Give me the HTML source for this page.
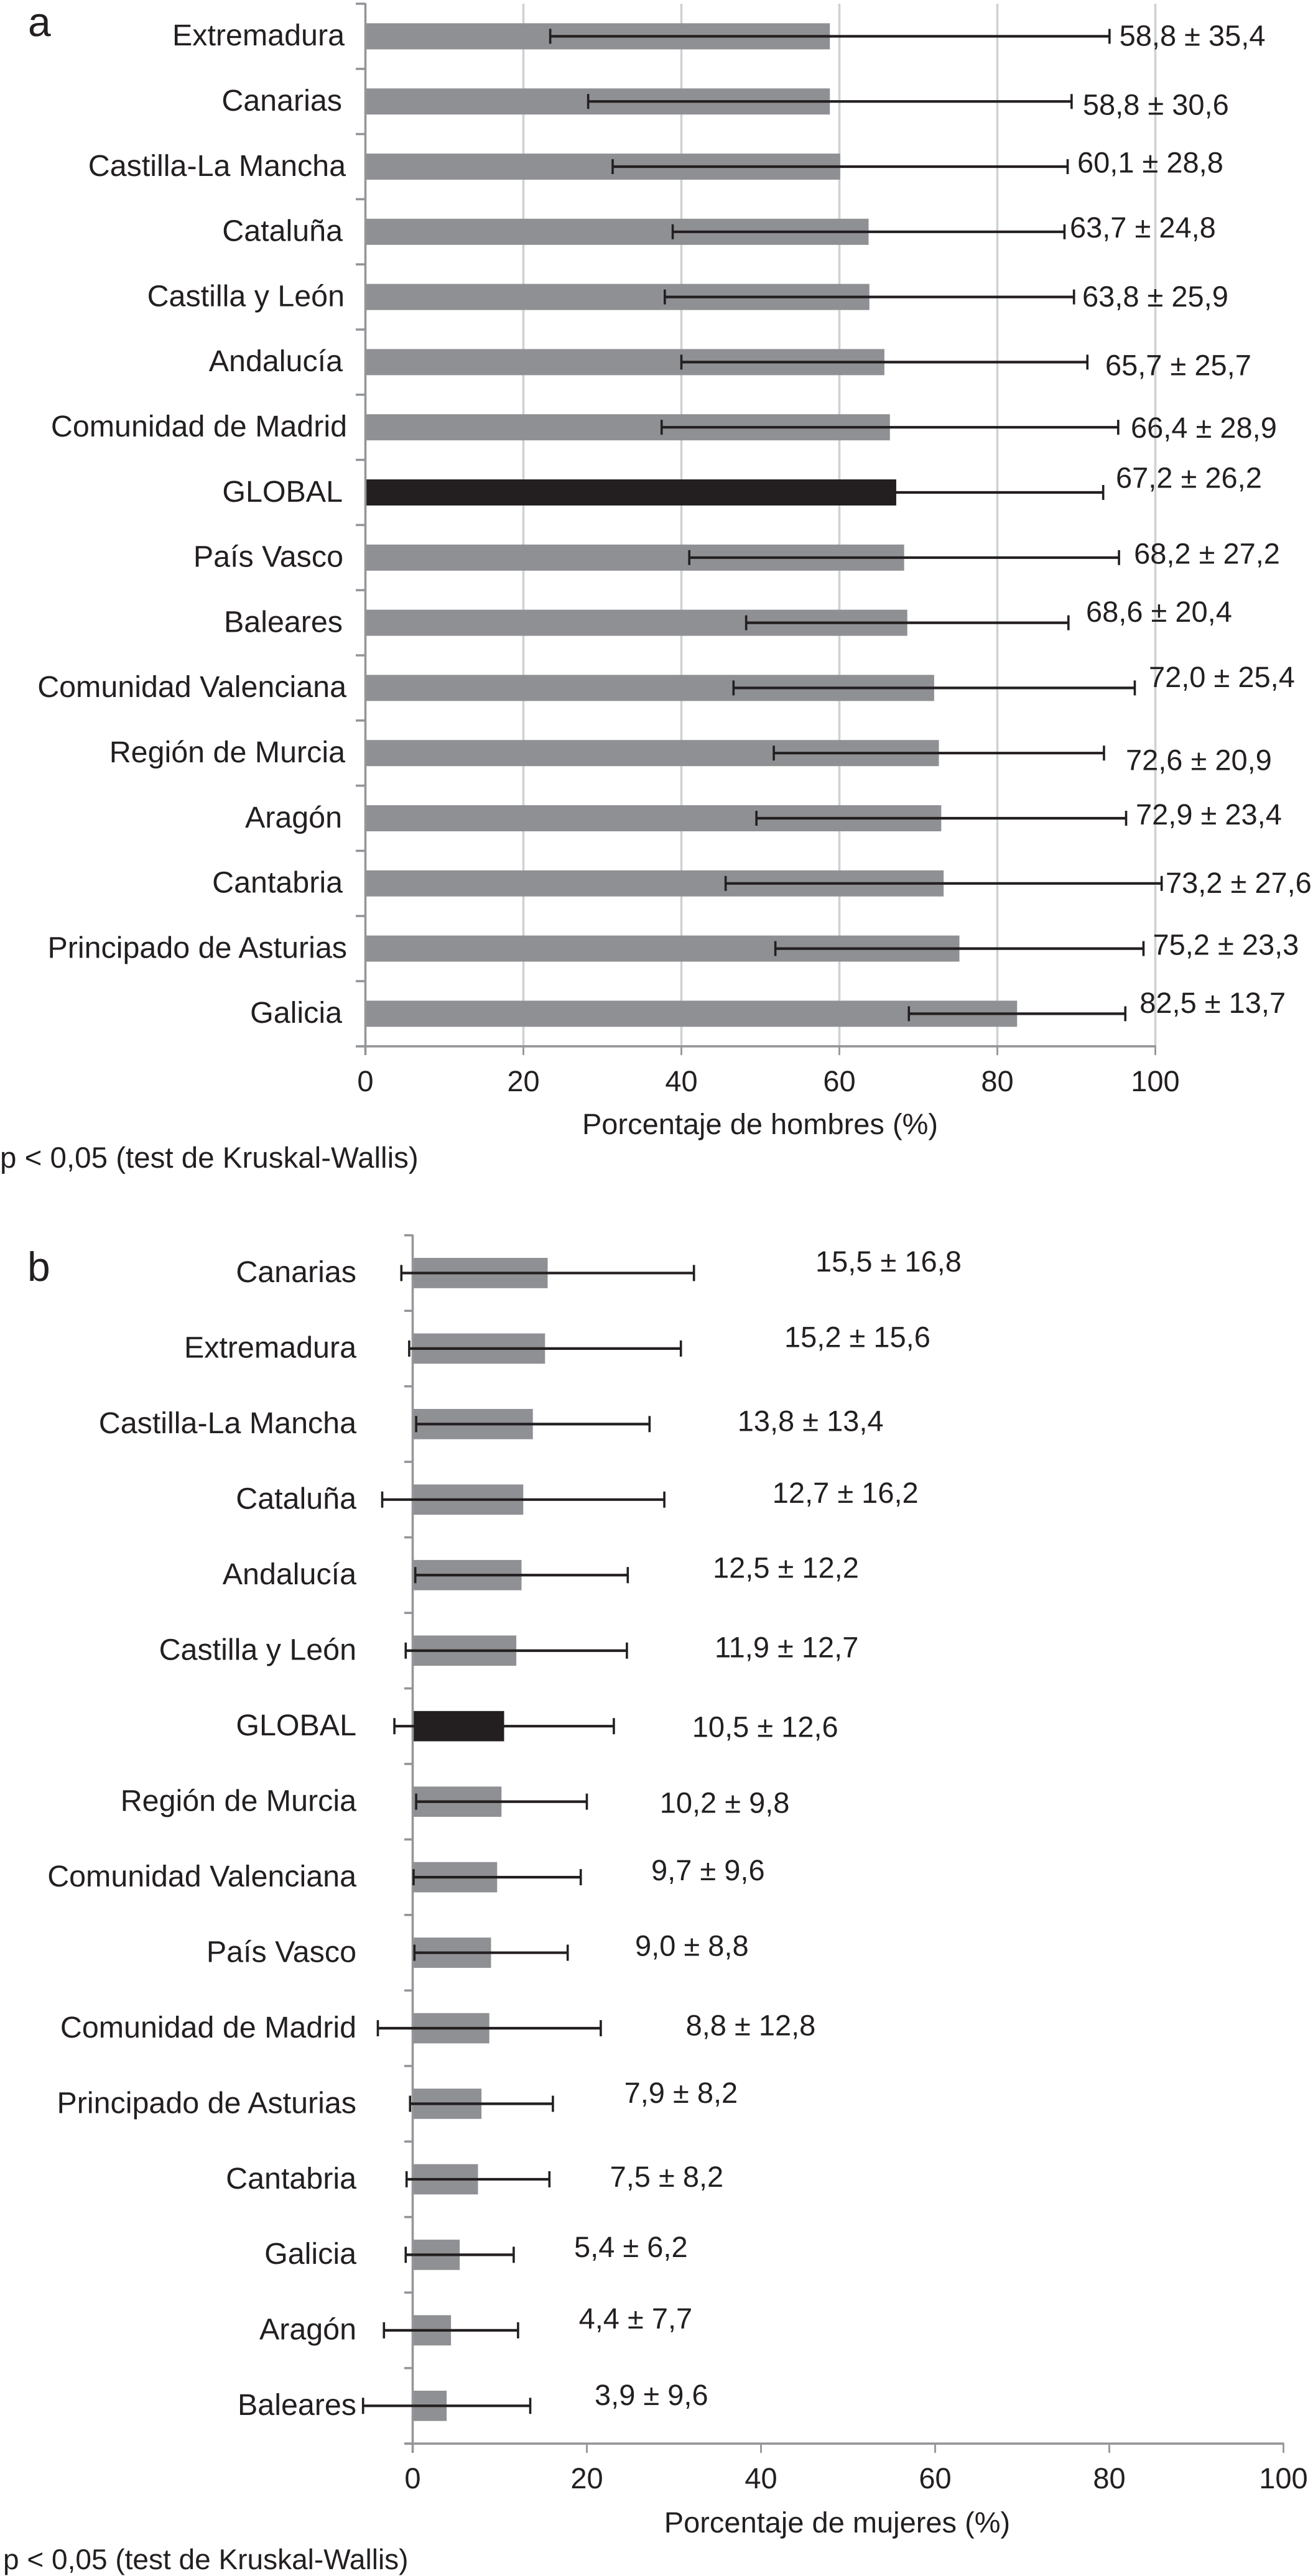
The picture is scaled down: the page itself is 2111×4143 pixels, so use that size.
<!DOCTYPE html>
<html lang="es">
<head>
<meta charset="utf-8">
<title>Porcentaje de hombres y mujeres por comunidad autónoma</title>
<style>
html,body{margin:0;padding:0;background:#fff;}
body{width:2111px;height:4143px;overflow:hidden;}
svg{display:block;}
text{font-family:"Liberation Sans",Arial,sans-serif;fill:#231f20;text-rendering:geometricPrecision;}
</style>
</head>
<body>
<svg id="fig" xmlns="http://www.w3.org/2000/svg" width="2111" height="4143" viewBox="0 0 2111 4143"></svg>
<script>
/* ---------- data: panel a (men) ---------- */
const menRegions = ["Extremadura","Canarias","Castilla-La Mancha","Cataluña","Castilla y León","Andalucía","Comunidad de Madrid","GLOBAL","País Vasco","Baleares","Comunidad Valenciana","Región de Murcia","Aragón","Cantabria","Principado de Asturias","Galicia"];
const menMeans = [58.8,58.8,60.1,63.7,63.8,65.7,66.4,67.2,68.2,68.6,72.0,72.6,72.9,73.2,75.2,82.5];
const menSDs = [35.4,30.6,28.8,24.8,25.9,25.7,28.9,26.2,27.2,20.4,25.4,20.9,23.4,27.6,23.3,13.7];

/* ---------- data: panel b (women) ---------- */
const womenRegions = ["Canarias","Extremadura","Castilla-La Mancha","Cataluña","Andalucía","Castilla y León","GLOBAL","Región de Murcia","Comunidad Valenciana","País Vasco","Comunidad de Madrid","Principado de Asturias","Cantabria","Galicia","Aragón","Baleares"];
const womenMeans = [15.5,15.2,13.8,12.7,12.5,11.9,10.5,10.2,9.7,9.0,8.8,7.9,7.5,5.4,4.4,3.9];
const womenSDs = [16.8,15.6,13.4,16.2,12.2,12.7,12.6,9.8,9.6,8.8,12.8,8.2,8.2,6.2,7.7,9.6];

/* ---------- shared axis ticks ---------- */
const axisTicks = [0,20,40,60,80,100];

/* ---------- layout ---------- */
const layoutA = {
  x0:587.5, unit:12.7, top:6, band:104.8, barH:42, capH:24, tickLeft:572, axisEnd:1697,
  labelRight:555, grid:true, titleX:1222, tickBase:1755, titleBase:1824,
  title:"Porcentaje de hombres (%)", letter:"a", letterX:45, letterBase:58,
  noteX:0, noteBase:1878, noteSize:47.5, prefix:"men",
  labelNudge:[-1,-5,1,-4,-1,-4,3,-4,-3,-4,2,0,-5,-4,3,-5],
  valueDx:[15.8,18,15.5,8.5,13.3,28.7,20.2,20.3,24,28.2,22.5,35,15.5,6.3,15,23],
  valueDy:[15.2,21.5,9.6,9.1,15.3,21.1,17,-7.4,9.5,-1.7,-1.5,27.4,10,15,10,-1.5]
};
const layoutB = {
  x0:663.5, unit:14, top:1986.7, band:121.46, barH:48.7, capH:26, tickLeft:650, axisEnd:3945,
  labelRight:573, grid:false, titleX:1346, tickBase:4002, titleBase:4073,
  title:"Porcentaje de mujeres (%)", letter:"b", letterX:44, letterBase:2060,
  noteX:5, noteBase:4132, noteSize:46, prefix:"women",
  labelNudge:[0,0,0,0,0,0,0,0,0,0,0,0,0,0,0,0],
  valueDx:[195.3,166.3,141.4,173.7,136.7,141.1,125.9,117.2,113.3,108.3,136.7,114.7,97.3,97.1,97.7,103.5],
  valueDy:[-2.2,-2.5,11.1,5.4,4.3,10.8,17.3,17.8,5,4.8,11.3,-1.6,12.1,3.6,-3.1,-1.4]
};

const AXIS = "#939598", GRID = "#cfd1d2", BAR = "#8f9093", DARK = "#231f20";
const SVGNS = "http://www.w3.org/2000/svg";
const root = document.getElementById("fig");

function make(tag, attrs, parent){
  const el = document.createElementNS(SVGNS, tag);
  for (const k in attrs) el.setAttribute(k, attrs[k]);
  (parent || root).appendChild(el);
  return el;
}
function fmt(v){ return v.toFixed(1).replace(".", ","); }

function drawPanel(regions, means, sds, L){
  const xScale = v => L.x0 + L.unit * v;
  const rowY = i => L.top + L.band * (i + 0.5);
  const axisY = L.top + L.band * regions.length;

  const g = make("g", {});
  
  

  /* gridlines */
  if (L.grid) {
    axisTicks.slice(1).forEach(t => {
      const line = make("line", {x1:xScale(t), x2:xScale(t), y1:L.top, y2:axisY, stroke:GRID, "stroke-width":3.6}, g);
      
      
    });
  }

  /* bars */
  regions.forEach((r, i) => {
    const isGlobal = r === "GLOBAL";
    const bar = make("rect", {x:xScale(0), y:rowY(i) - L.barH / 2, width:xScale(means[i]) - xScale(0), height:L.barH, fill:isGlobal ? DARK : BAR}, g);
    
    
  });

  /* y axis and category ticks */
  const yAxis = make("line", {x1:xScale(0), x2:xScale(0), y1:L.top - 1, y2:L.axisEnd, stroke:AXIS, "stroke-width":3.6}, g);
  
  
  for (let i = 0; i <= regions.length; i++) {
    const yy = L.top + L.band * i;
    const tick = make("line", {x1:L.tickLeft, x2:xScale(0), y1:yy, y2:yy, stroke:AXIS, "stroke-width":3.6}, g);
    
    
  }

  /* x axis and value ticks */
  const xAxis = make("line", {x1:L.tickLeft, x2:xScale(100) + 1, y1:axisY, y2:axisY, stroke:AXIS, "stroke-width":3.6}, g);
  
  
  axisTicks.forEach(t => {
    const tick = make("line", {x1:xScale(t), x2:xScale(t), y1:axisY, y2:L.axisEnd, stroke:AXIS, "stroke-width":2.8}, g);
    
    
    const label = make("text", {x:xScale(t), y:L.tickBase, "text-anchor":"middle", "font-size":47}, g);
    label.textContent = t;
    
    
  });

  /* error bars, category labels, value labels */
  regions.forEach((r, i) => {
    const lo = means[i] - sds[i], hi = means[i] + sds[i], cy = rowY(i);

    const stem = make("line", {x1:xScale(lo), x2:xScale(hi), y1:cy, y2:cy, stroke:DARK, "stroke-width":4.2}, g);
    
    

    const capLo = make("line", {x1:xScale(lo), x2:xScale(lo), y1:cy - L.capH / 2, y2:cy + L.capH / 2, stroke:DARK, "stroke-width":3.6}, g);
    
    

    const capHi = make("line", {x1:xScale(hi), x2:xScale(hi), y1:cy - L.capH / 2, y2:cy + L.capH / 2, stroke:DARK, "stroke-width":3.6}, g);
    
    

    const cat = make("text", {x:L.labelRight + L.labelNudge[i], y:cy + 14.8, "text-anchor":"end", "font-size":48.4}, g);
    cat.textContent = r;
    
    

    const val = make("text", {x:xScale(hi) + L.valueDx[i], y:cy + L.valueDy[i], "font-size":47}, g);
    val.textContent = fmt(means[i]) + " ± " + fmt(sds[i]);
    
    
  });

  /* titles and notes */
  const title = make("text", {x:L.titleX, y:L.titleBase, "text-anchor":"middle", "font-size":47}, g);
  title.textContent = L.title;
  
  

  const letter = make("text", {x:L.letterX, y:L.letterBase, "font-size":66}, g);
  letter.textContent = L.letter;
  
  

  const note = make("text", {x:L.noteX, y:L.noteBase, "font-size":L.noteSize}, g);
  note.textContent = "p < 0,05 (test de Kruskal-Wallis)";
  
  
}

drawPanel(menRegions, menMeans, menSDs, layoutA);
drawPanel(womenRegions, womenMeans, womenSDs, layoutB);
</script>
</body>
</html>
